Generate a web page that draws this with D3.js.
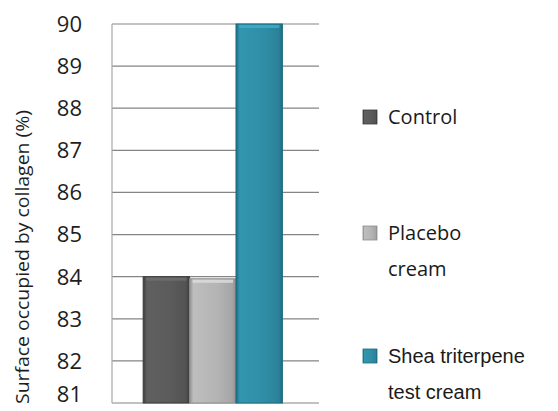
<!DOCTYPE html>
<html>
<head>
<meta charset="utf-8">
<script src="https://cdn.jsdelivr.net/npm/d3@7"></script>
<style>
  body { margin: 0; background: #fff; }
  svg { display: block; }
</style>
</head>
<body>
<script>
// Data
var categories = ["Control", "Placebo cream", "Shea triterpene test cream"];
var values = [84.0, 83.95, 90.0];
var yTicks = [81, 82, 83, 84, 85, 86, 87, 88, 89, 90];
var legendLines = [["Control"], ["Placebo", "cream"], ["Shea triterpene", "test cream"]];
var barColors = ["#5b5b5b", "#b4b4b4", "#2f8ea6"];
var edgeColors = ["#3c3c3c", "#8e8e8e", "#1d6c82"];
var legendFonts = ["'Open Sans', sans-serif", "'Open Sans', sans-serif", "'Liberation Sans', Arial, sans-serif"];

var W = 558, H = 411;
var plot = { left: 112, right: 319, top: 24, bottom: 403 };

var svg = d3.select("body").append("svg")
  .attr("width", W)
  .attr("height", H);

var defs = svg.append("defs");
barColors.forEach(function(c, i) {
  var g = defs.append("linearGradient")
    .attr("id", "bar" + i)
    .attr("x1", 0).attr("x2", 1).attr("y1", 0).attr("y2", 0);
  var base = d3.color(c);
  g.append("stop").attr("offset", "0%").attr("stop-color", edgeColors[i]);
  g.append("stop").attr("offset", "8%").attr("stop-color", base.brighter(0.15));
  g.append("stop").attr("offset", "60%").attr("stop-color", c);
  g.append("stop").attr("offset", "92%").attr("stop-color", base.darker(0.25));
  g.append("stop").attr("offset", "100%").attr("stop-color", edgeColors[i]);
});

var y = d3.scaleLinear()
  .domain([81, 90])
  .range([plot.bottom, plot.top]);

var x = d3.scaleBand()
  .domain(categories)
  .range([plot.left, plot.right])
  .paddingInner(0)
  .paddingOuter(0.73)
  .align(0.46);

// gridlines
svg.append("g")
  .selectAll("line")
  .data(yTicks)
  .enter()
  .append("line")
  .attr("x1", plot.left)
  .attr("x2", plot.right)
  .attr("y1", function(d) { return y(d); })
  .attr("y2", function(d) { return y(d); })
  .attr("stroke", "#858585")
  .attr("stroke-width", 1.2);

// left axis line
svg.append("line")
  .attr("x1", plot.left).attr("x2", plot.left)
  .attr("y1", plot.top).attr("y2", plot.bottom)
  .attr("stroke", "#a8a8a8")
  .attr("stroke-width", 1.2);

// tick labels (bottom one nudged up so it stays on the page)
svg.append("g")
  .selectAll("text")
  .data(yTicks)
  .enter()
  .append("text")
  .attr("x", 82)
  .attr("y", function(d) { return Math.min(y(d), 394); })
  .attr("dy", "0.36em")
  .attr("text-anchor", "end")
  .style("font-family", "'Open Sans', sans-serif")
  .style("font-size", "22px")
  .style("fill", "#1e1e1e")
  .text(function(d) { return d; });

// axis title
svg.append("text")
  .attr("transform", "translate(29,110) rotate(-90)")
  .attr("text-anchor", "end")
  .attr("textLength", 294)
  .attr("lengthAdjust", "spacingAndGlyphs")
  .style("font-family", "'Open Sans', sans-serif")
  .style("font-size", "18px")
  .style("fill", "#1e1e1e")
  .text("Surface occupied by collagen (%)");

// bars
var bars = svg.append("g")
  .selectAll("g")
  .data(categories)
  .enter()
  .append("g");

bars.append("rect")
  .attr("x", function(d) { return x(d); })
  .attr("y", function(d, i) { return y(values[i]); })
  .attr("width", x.bandwidth())
  .attr("height", function(d, i) { return y(81) - y(values[i]); })
  .attr("fill", function(d, i) { return "url(#bar" + i + ")"; })
  .attr("stroke", function(d, i) { return edgeColors[i]; })
  .attr("stroke-width", 1);

// top highlight of each bar
bars.append("rect")
  .attr("x", function(d) { return x(d) + 3; })
  .attr("y", function(d, i) { return y(values[i]) + 1; })
  .attr("width", x.bandwidth() - 6)
  .attr("height", 3)
  .attr("fill", function(d, i) { return d3.color(barColors[i]).brighter(0.6); })
  .attr("opacity", 0.8);

// legend
var legendY = [117, 233, 356];
var legend = svg.append("g")
  .selectAll("g")
  .data(categories)
  .enter()
  .append("g")
  .attr("transform", function(d, i) { return "translate(363," + legendY[i] + ")"; });

legend.append("rect")
  .attr("x", 0)
  .attr("y", -7)
  .attr("width", 14)
  .attr("height", 14)
  .attr("fill", function(d, i) { return "url(#bar" + i + ")"; })
  .attr("stroke", function(d, i) { return edgeColors[i]; })
  .attr("stroke-width", 0.8);

legend.each(function(d, i) {
  var t = d3.select(this).append("text")
    .attr("x", 25)
    .attr("y", 0)
    .style("font-family", legendFonts[i])
    .style("font-size", "20px")
    .style("fill", "#1a1a1a");
  legendLines[i].forEach(function(line, j) {
    t.append("tspan")
      .attr("x", 25)
      .attr("dy", j == 0 ? "0.36em" : "1.8em")
      .text(line);
  });
});
</script>
</body>
</html>
